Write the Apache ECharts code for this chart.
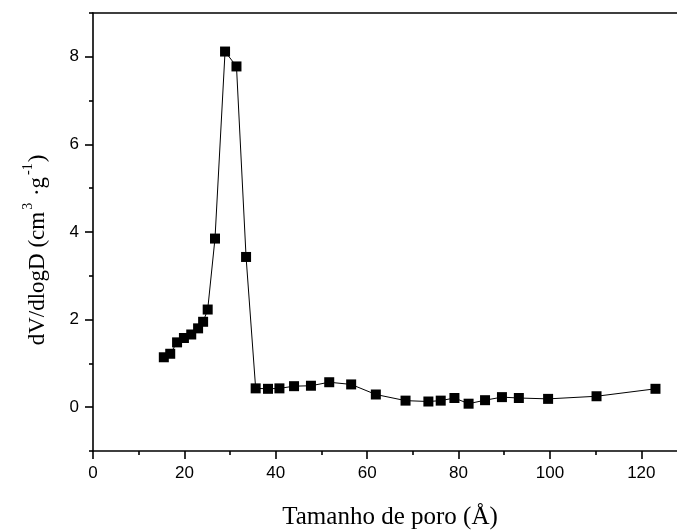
<!DOCTYPE html>
<html>
<head>
<meta charset="utf-8">
<script src="https://cdn.jsdelivr.net/npm/echarts@6/dist/echarts.min.js"></script>
<style>
html,body{margin:0;padding:0;background:#fff;}
#chart{width:677px;height:531px;}
</style>
</head>
<body>
<div id="chart"></div>
<script>
// Pore size (Å)
var poreSize = [15.5, 16.9, 18.4, 19.9, 21.5, 23.0, 24.1, 25.1, 26.7, 28.9, 31.4, 33.5,
  35.6, 38.3, 40.8, 44.0, 47.7, 51.7, 56.5, 61.9, 68.4, 73.4, 76.1, 79.1, 82.2,
  85.8, 89.5, 93.2, 99.6, 110.2, 123.1];
// dV/dlogD (cm3/g)
var dVdlogD = [1.14, 1.22, 1.48, 1.58, 1.66, 1.80, 1.95, 2.23, 3.85, 8.12, 7.78, 3.43,
  0.43, 0.42, 0.43, 0.48, 0.49, 0.57, 0.52, 0.29, 0.15, 0.13, 0.15, 0.21, 0.08,
  0.16, 0.23, 0.21, 0.19, 0.25, 0.42];
var xMajorTicks = [0, 20, 40, 60, 80, 100, 120];
var xMinorTicks = [10, 30, 50, 70, 90, 110];
var yMajorTicks = [0, 2, 4, 6, 8];
var yMinorTicks = [-1, 1, 3, 5, 7, 9];

var points = poreSize.map(function (x, i) { return [x, dVdlogD[i]]; });

var chart = echarts.init(document.getElementById('chart'), null, {renderer: 'canvas'});
var labelFont = {fontFamily: 'Liberation Sans, Arial, sans-serif', fontSize: 17, color: '#000'};
var titleFont = {fontFamily: 'Liberation Serif, Times New Roman, serif', color: '#000'};

chart.setOption({
  animation: false,
  backgroundColor: '#fff',
  grid: {left: 93, right: -10, top: 13, bottom: 80, containLabel: false, outerBoundsMode: 'none'},
  xAxis: [
    {
      type: 'value', min: 0, max: 130, position: 'bottom',
      axisLine: {show: true, onZero: false, lineStyle: {color: '#000', width: 1.6}},
      axisTick: {show: true, inside: false, length: 8, customValues: xMajorTicks, lineStyle: {color: '#000', width: 1.6}},
      axisLabel: Object.assign({show: true, margin: 14, customValues: xMajorTicks}, labelFont),
      splitLine: {show: false},
      name: 'Tamanho de poro (Å)',
      nameLocation: 'middle',
      nameGap: 54,
      nameTextStyle: Object.assign({fontSize: 25}, titleFont)
    },
    {
      type: 'value', min: 0, max: 130, position: 'bottom',
      axisLine: {show: false, onZero: false},
      axisTick: {show: true, inside: false, length: 4, customValues: xMinorTicks, lineStyle: {color: '#000', width: 1.6}},
      axisLabel: {show: false},
      splitLine: {show: false}
    },
    {
      type: 'value', min: 0, max: 130, position: 'top',
      axisLine: {show: true, onZero: false, lineStyle: {color: '#000', width: 1.6}},
      axisTick: {show: false},
      axisLabel: {show: false},
      splitLine: {show: false}
    }
  ],
  yAxis: [
    {
      type: 'value', min: -1, max: 9, position: 'left',
      axisLine: {show: true, onZero: false, lineStyle: {color: '#000', width: 1.6}},
      axisTick: {show: true, inside: false, length: 8, customValues: yMajorTicks, lineStyle: {color: '#000', width: 1.6}},
      axisLabel: Object.assign({show: true, margin: 14, customValues: yMajorTicks}, labelFont),
      splitLine: {show: false},
      name: '{n|dV/dlogD (cm}{s|3}{n| ·g}{s|-1}{n|)}',
      nameLocation: 'middle',
      nameRotate: 90,
      nameGap: 44,
      nameTextStyle: Object.assign({
        fontSize: 23,
        padding: [0, 36, 0, 0],
        rich: {
          n: Object.assign({fontSize: 23, lineHeight: 28, verticalAlign: 'bottom'}, titleFont),
          s: Object.assign({fontSize: 14, lineHeight: 28, verticalAlign: 'top', padding: [0, 1, 0, 2]}, titleFont)
        }
      }, titleFont)
    },
    {
      type: 'value', min: -1, max: 9, position: 'left',
      axisLine: {show: false, onZero: false},
      axisTick: {show: true, inside: false, length: 4, customValues: yMinorTicks, lineStyle: {color: '#000', width: 1.6}},
      axisLabel: {show: false},
      splitLine: {show: false}
    }
  ],
  series: [{
    type: 'line',
    xAxisIndex: 0,
    yAxisIndex: 0,
    data: points,
    symbol: 'rect',
    symbolSize: 10,
    showAllSymbol: true,
    itemStyle: {color: '#000'},
    lineStyle: {color: '#000', width: 1},
    clip: false
  }]
});
</script>
</body>
</html>
